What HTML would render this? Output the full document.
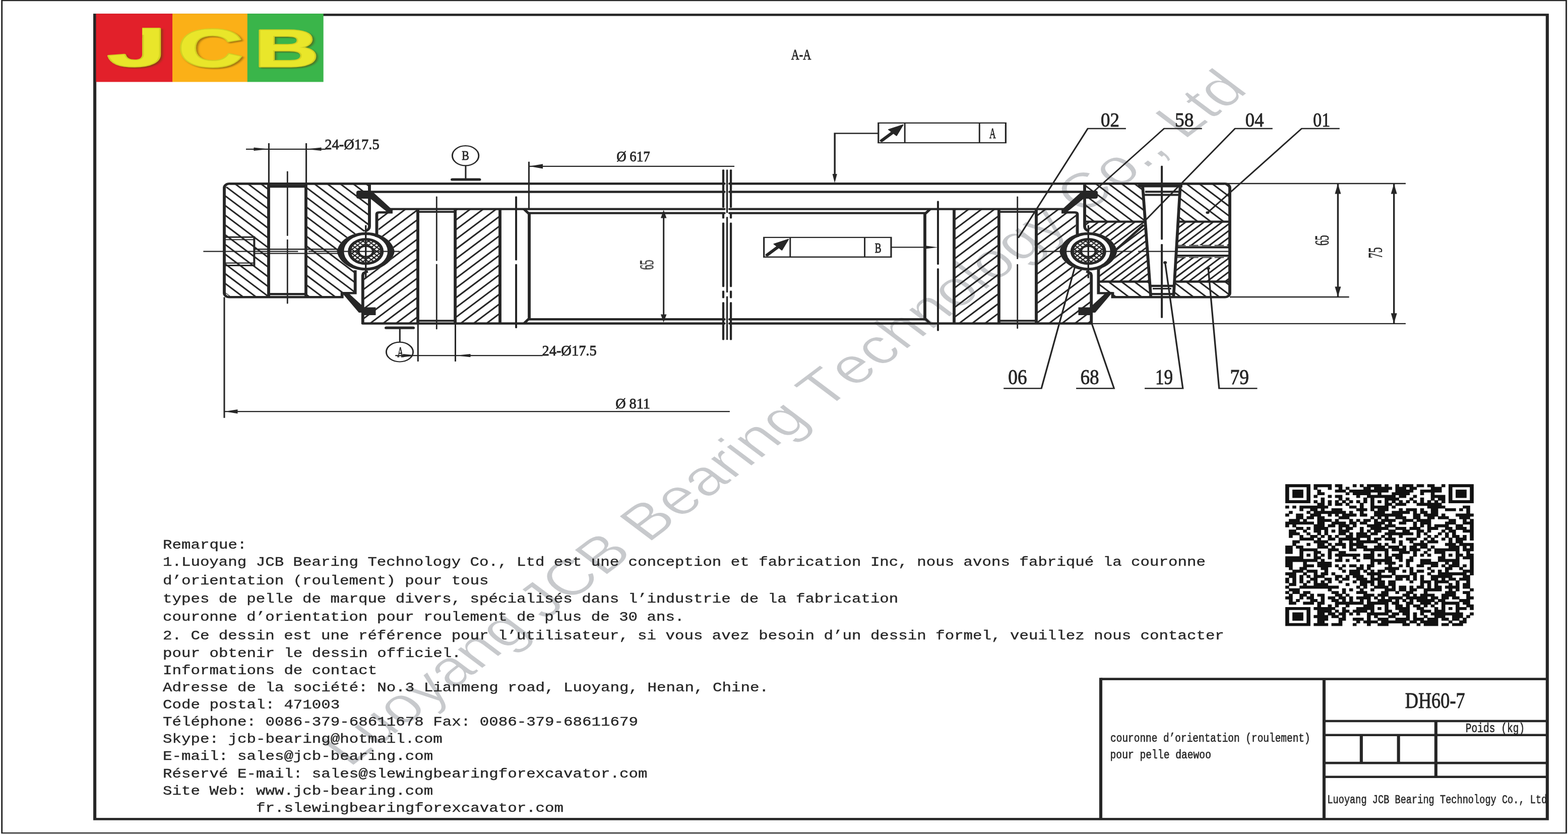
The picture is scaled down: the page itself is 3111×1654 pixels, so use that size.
<!DOCTYPE html>
<html lang="fr"><head><meta charset="utf-8"><title>DH60-7 couronne d'orientation</title>
<style>html,body{margin:0;padding:0;background:#fff;}body{width:3111px;height:1654px;overflow:hidden;}svg{display:block;}text{white-space:pre;}</style></head><body>
<svg width="3111" height="1654" viewBox="0 0 3111 1654" role="img" aria-label="Plan de la couronne d orientation DH60-7">
<defs><clipPath id="b1"><circle cx="545.64" cy="498.6" r="24"/></clipPath><clipPath id="b2"><circle cx="1623.53" cy="498.6" r="24"/></clipPath><clipPath id="c3"><path d="M343.61 364.3 L400.75 364.3 L400.75 589.3 L343.61 589.3 L334.59 579.3 L334.59 374.3 Z" clip-rule="evenodd"/></clipPath><clipPath id="c4"><path d="M456.39 364.3 L551.13 364.3 L551.13 452 L544.36 458.5 L540.43 460.91 L535.29 461.85 L530.3 463.41 L525.53 465.55 L521.06 468.24 L516.95 471.46 L513.25 475.15 L510.02 479.26 L507.31 483.72 L505.16 488.48 L503.59 493.46 L502.64 498.6 L503.59 503.74 L505.16 508.72 L507.31 513.48 L510.02 517.94 L513.25 522.05 L516.95 525.74 L521.06 528.96 L525.53 531.65 L529.85 536 L529.85 581.2 L510.3 581.2 L510.3 589.3 L456.39 589.3 Z" clip-rule="evenodd"/></clipPath><clipPath id="c5"><path d="M562.03 421.2 L583.46 421.2 L583.46 414.6 L623.31 414.6 L623.31 641.5 L541.2 641.5 L541.2 544 L547.37 539 L550.85 536.29 L555.99 535.35 L560.98 533.79 L565.74 531.65 L570.22 528.96 L574.33 525.74 L578.03 522.05 L581.26 517.94 L583.97 513.48 L586.12 508.72 L587.69 503.74 L588.64 498.6 L587.69 493.46 L586.12 488.48 L583.97 483.72 L581.26 479.26 L578.03 475.15 L574.33 471.46 L570.22 468.24 L565.74 465.55 Z" clip-rule="evenodd"/></clipPath><clipPath id="c6"><path d="M679.02 414.6 L745.86 414.6 L745.86 641.5 L679.02 641.5 Z" clip-rule="evenodd"/></clipPath><clipPath id="c7"><path d="M1607.14 421.2 L1585.71 421.2 L1585.71 414.6 L1545.86 414.6 L1545.86 641.5 L1627.97 641.5 L1627.97 544 L1621.8 539 L1618.32 536.29 L1613.18 535.35 L1608.19 533.79 L1603.43 531.65 L1598.96 528.96 L1594.84 525.74 L1591.14 522.05 L1587.91 517.94 L1585.2 513.48 L1583.05 508.72 L1581.49 503.74 L1580.53 498.6 L1581.49 493.46 L1583.05 488.48 L1585.2 483.72 L1587.91 479.26 L1591.14 475.15 L1594.84 471.46 L1598.96 468.24 L1603.43 465.55 Z" clip-rule="evenodd"/></clipPath><clipPath id="c8"><path d="M1490.15 414.6 L1423.31 414.6 L1423.31 641.5 L1490.15 641.5 Z" clip-rule="evenodd"/></clipPath><clipPath id="c9"><path d="M1618.05 364.3 L1704.31 364.3 L1708.48 439.6 L1618.05 439.6 Z" clip-rule="evenodd"/></clipPath><clipPath id="c10"><path d="M1760.88 364.3 L1827.07 364.3 L1834.59 372.3 L1834.59 439.6 L1757.45 439.6 Z" clip-rule="evenodd"/></clipPath><clipPath id="c11"><path d="M1618.05 439.6 L1708.48 439.6 L1715.05 558.5 L1638.65 558.5 L1638.65 536 L1638.87 533.79 L1643.64 531.65 L1648.11 528.96 L1652.23 525.74 L1655.92 522.05 L1659.15 517.94 L1661.86 513.48 L1664.02 508.72 L1665.58 503.74 L1666.53 498.6 L1665.58 493.46 L1664.02 488.48 L1661.86 483.72 L1659.15 479.26 L1655.92 475.15 L1652.23 471.46 L1648.11 468.24 L1643.64 465.55 L1638.87 463.41 L1633.89 461.85 L1628.75 460.91 L1624.81 458.5 L1618.05 452 Z" clip-rule="evenodd"/></clipPath><clipPath id="c12"><path d="M1757.45 439.6 L1834.59 439.6 L1834.59 486.6 L1755.3 486.6 Z" clip-rule="evenodd"/></clipPath><clipPath id="c13"><path d="M1754.2 510.8 L1834.59 510.8 L1834.59 558.5 L1752.03 558.5 Z" clip-rule="evenodd"/></clipPath><clipPath id="c14"><path d="M1638.65 558.5 L1715.05 558.5 L1716.76 589.3 L1659.77 589.3 L1659.77 581.4 L1638.65 581.4 Z" clip-rule="evenodd"/></clipPath><clipPath id="c15"><path d="M1752.03 558.5 L1834.59 558.5 L1834.59 581.3 L1827.07 589.3 L1750.62 589.3 Z" clip-rule="evenodd"/></clipPath></defs>
<rect width="3111" height="1654" fill="#fff"/>
<g><g transform="scale(1.33 1)"><text transform="translate(521.5 1523.4) rotate(-45)" font-family="&quot;Liberation Sans&quot;, sans-serif" font-size="100.2" fill="#c7c9cc" stroke="#fff" stroke-width="1.4" style="font-kerning:none">Luoyang JCB Bearing Technology Co., Ltd</text></g></g>
<g transform="scale(1.33 1)"><rect x="2.78" y="1.1" width="2333.76" height="1650.9" fill="none" stroke="#262626" stroke-width="2.2"/>
<rect x="141.43" y="29.4" width="2166.77" height="1595" fill="none" stroke="#262626" stroke-width="4.6"/>
<line x1="1642.11" y1="1346.6" x2="2308.2" y2="1346.6" stroke="#262626" stroke-width="4.6"/>
<line x1="1642.11" y1="1344.3" x2="1642.11" y2="1624.4" stroke="#262626" stroke-width="4.6"/>
<line x1="1975.19" y1="1346.6" x2="1975.19" y2="1624.4" stroke="#262626" stroke-width="4.6"/>
<line x1="1975.19" y1="1430" x2="2308.2" y2="1430" stroke="#262626" stroke-width="4.6"/>
<line x1="1975.19" y1="1457.7" x2="2308.2" y2="1457.7" stroke="#262626" stroke-width="4.6"/>
<line x1="1975.19" y1="1513.1" x2="2308.2" y2="1513.1" stroke="#262626" stroke-width="4.6"/>
<line x1="1975.19" y1="1540.8" x2="2308.2" y2="1540.8" stroke="#262626" stroke-width="4.6"/>
<line x1="2142.03" y1="1430" x2="2142.03" y2="1540.8" stroke="#262626" stroke-width="4.6"/>
<line x1="2030.75" y1="1457.7" x2="2030.75" y2="1513.1" stroke="#262626" stroke-width="4.6"/>
<line x1="2086.24" y1="1457.7" x2="2086.24" y2="1513.1" stroke="#262626" stroke-width="4.6"/>
<path d="M343.61 364.3 L1080.3 364.3" fill="none" stroke="#262626" stroke-width="4.4" stroke-linecap="round"/>
<path d="M1088.72 364.3 L1825.56 364.3" fill="none" stroke="#262626" stroke-width="4.4" stroke-linecap="round"/>
<path d="M553.38 380.5 L1080.3 380.5" fill="none" stroke="#262626" stroke-width="4.4" stroke-linecap="round"/>
<path d="M1088.72 380.5 L1616.54 380.5" fill="none" stroke="#262626" stroke-width="4.4" stroke-linecap="round"/>
<path d="M582.71 414.6 L1080.3 414.6" fill="none" stroke="#262626" stroke-width="4.4" stroke-linecap="round"/>
<path d="M1088.72 414.6 L1586.47 414.6" fill="none" stroke="#262626" stroke-width="4.4" stroke-linecap="round"/>
<path d="M789.47 422.6 L1080.3 422.6" fill="none" stroke="#262626" stroke-width="4.4" stroke-linecap="round"/>
<path d="M1088.72 422.6 L1379.7 422.6" fill="none" stroke="#262626" stroke-width="4.4" stroke-linecap="round"/>
<path d="M789.47 633.3 L1080.3 633.3" fill="none" stroke="#262626" stroke-width="4.4" stroke-linecap="round"/>
<path d="M1088.72 633.3 L1379.7 633.3" fill="none" stroke="#262626" stroke-width="4.4" stroke-linecap="round"/>
<path d="M541.2 641.5 L1080.3 641.5" fill="none" stroke="#262626" stroke-width="4.4" stroke-linecap="round"/>
<path d="M1088.72 641.5 L1627.97 641.5" fill="none" stroke="#262626" stroke-width="4.4" stroke-linecap="round"/>
<line x1="1078.95" y1="337.5" x2="1078.95" y2="410.4" stroke="#262626" stroke-width="3.2" stroke-linecap="round"/>
<line x1="1078.95" y1="422.6" x2="1078.95" y2="432" stroke="#262626" stroke-width="3.2" stroke-linecap="round"/>
<line x1="1078.95" y1="442.8" x2="1078.95" y2="567.8" stroke="#262626" stroke-width="3.2" stroke-linecap="round"/>
<line x1="1078.95" y1="577.8" x2="1078.95" y2="590" stroke="#262626" stroke-width="3.2" stroke-linecap="round"/>
<line x1="1078.95" y1="600.7" x2="1078.95" y2="673" stroke="#262626" stroke-width="3.2" stroke-linecap="round"/>
<line x1="1090.3" y1="337.5" x2="1090.3" y2="410.4" stroke="#262626" stroke-width="3.2" stroke-linecap="round"/>
<line x1="1090.3" y1="422.6" x2="1090.3" y2="432" stroke="#262626" stroke-width="3.2" stroke-linecap="round"/>
<line x1="1090.3" y1="442.8" x2="1090.3" y2="567.8" stroke="#262626" stroke-width="3.2" stroke-linecap="round"/>
<line x1="1090.3" y1="577.8" x2="1090.3" y2="590" stroke="#262626" stroke-width="3.2" stroke-linecap="round"/>
<line x1="1090.3" y1="600.7" x2="1090.3" y2="673" stroke="#262626" stroke-width="3.2" stroke-linecap="round"/>
<line x1="1084.66" y1="337.5" x2="1084.66" y2="421.2" stroke="#262626" stroke-width="2.4" stroke-linecap="round"/>
<line x1="1084.66" y1="431.2" x2="1084.66" y2="579" stroke="#262626" stroke-width="2.4" stroke-linecap="round"/>
<line x1="1084.66" y1="588.6" x2="1084.66" y2="673" stroke="#262626" stroke-width="2.4" stroke-linecap="round"/>
<path d="M502.64 498.6 L503.59 493.46 L505.16 488.48 L507.31 483.72 L510.02 479.26 L513.25 475.15 L516.95 471.46 L521.06 468.24 L525.53 465.55 L530.3 463.41 L535.29 461.85 L540.43 460.91 L545.64 460.6 L550.85 460.91 L555.99 461.85 L560.98 463.41 L565.74 465.55 L570.22 468.24 L574.33 471.46 L578.03 475.15 L581.26 479.26 L583.97 483.72 L586.12 488.48 L587.69 493.46 L588.64 498.6 L587.69 503.74 L586.12 508.72 L583.97 513.48 L581.26 517.94 L578.03 522.05 L574.33 525.74 L570.22 528.96 L565.74 531.65 L560.98 533.79 L555.99 535.35 L550.85 536.29 L545.64 536.6 L540.43 536.29 L535.29 535.35 L530.3 533.79 L525.53 531.65 L521.06 528.96 L516.95 525.74 L513.25 522.05 L510.02 517.94 L507.31 513.48 L505.16 508.72 L503.59 503.74 Z" fill="#262626" stroke="none" stroke-width="0" stroke-linejoin="miter"/>
<circle cx="545.64" cy="498.6" r="32.6" fill="#fff" stroke="none" stroke-width="0"/>
<path clip-path="url(#b1)" d="M515.64 419.4 L575.64 479.4 M515.64 479.4 L575.64 419.4 M515.64 427.6 L575.64 487.6 M515.64 487.6 L575.64 427.6 M515.64 435.8 L575.64 495.8 M515.64 495.8 L575.64 435.8 M515.64 444 L575.64 504 M515.64 504 L575.64 444 M515.64 452.2 L575.64 512.2 M515.64 512.2 L575.64 452.2 M515.64 460.4 L575.64 520.4 M515.64 520.4 L575.64 460.4 M515.64 468.6 L575.64 528.6 M515.64 528.6 L575.64 468.6 M515.64 476.8 L575.64 536.8 M515.64 536.8 L575.64 476.8 M515.64 485 L575.64 545 M515.64 545 L575.64 485 M515.64 493.2 L575.64 553.2 M515.64 553.2 L575.64 493.2 M515.64 501.4 L575.64 561.4 M515.64 561.4 L575.64 501.4 M515.64 509.6 L575.64 569.6 M515.64 569.6 L575.64 509.6 M515.64 517.8 L575.64 577.8 M515.64 577.8 L575.64 517.8" fill="none" stroke="#262626" stroke-width="2"/>
<circle cx="545.64" cy="498.6" r="24.2" fill="none" stroke="#262626" stroke-width="5"/>
<circle cx="545.64" cy="498.6" r="11.2" fill="#fff" stroke="#262626" stroke-width="4"/>
<line x1="545.64" y1="446.6" x2="545.64" y2="551.6" stroke="#262626" stroke-width="2.6"/>
<path d="M1580.53 498.6 L1581.49 493.46 L1583.05 488.48 L1585.2 483.72 L1587.91 479.26 L1591.14 475.15 L1594.84 471.46 L1598.96 468.24 L1603.43 465.55 L1608.19 463.41 L1613.18 461.85 L1618.32 460.91 L1623.53 460.6 L1628.75 460.91 L1633.89 461.85 L1638.87 463.41 L1643.64 465.55 L1648.11 468.24 L1652.23 471.46 L1655.92 475.15 L1659.15 479.26 L1661.86 483.72 L1664.02 488.48 L1665.58 493.46 L1666.53 498.6 L1665.58 503.74 L1664.02 508.72 L1661.86 513.48 L1659.15 517.94 L1655.92 522.05 L1652.23 525.74 L1648.11 528.96 L1643.64 531.65 L1638.87 533.79 L1633.89 535.35 L1628.75 536.29 L1623.53 536.6 L1618.32 536.29 L1613.18 535.35 L1608.19 533.79 L1603.43 531.65 L1598.96 528.96 L1594.84 525.74 L1591.14 522.05 L1587.91 517.94 L1585.2 513.48 L1583.05 508.72 L1581.49 503.74 Z" fill="#262626" stroke="none" stroke-width="0" stroke-linejoin="miter"/>
<circle cx="1623.53" cy="498.6" r="32.6" fill="#fff" stroke="none" stroke-width="0"/>
<path clip-path="url(#b2)" d="M1593.53 419.4 L1653.53 479.4 M1593.53 479.4 L1653.53 419.4 M1593.53 427.6 L1653.53 487.6 M1593.53 487.6 L1653.53 427.6 M1593.53 435.8 L1653.53 495.8 M1593.53 495.8 L1653.53 435.8 M1593.53 444 L1653.53 504 M1593.53 504 L1653.53 444 M1593.53 452.2 L1653.53 512.2 M1593.53 512.2 L1653.53 452.2 M1593.53 460.4 L1653.53 520.4 M1593.53 520.4 L1653.53 460.4 M1593.53 468.6 L1653.53 528.6 M1593.53 528.6 L1653.53 468.6 M1593.53 476.8 L1653.53 536.8 M1593.53 536.8 L1653.53 476.8 M1593.53 485 L1653.53 545 M1593.53 545 L1653.53 485 M1593.53 493.2 L1653.53 553.2 M1593.53 553.2 L1653.53 493.2 M1593.53 501.4 L1653.53 561.4 M1593.53 561.4 L1653.53 501.4 M1593.53 509.6 L1653.53 569.6 M1593.53 569.6 L1653.53 509.6 M1593.53 517.8 L1653.53 577.8 M1593.53 577.8 L1653.53 517.8" fill="none" stroke="#262626" stroke-width="2"/>
<circle cx="1623.53" cy="498.6" r="24.2" fill="none" stroke="#262626" stroke-width="5"/>
<circle cx="1623.53" cy="498.6" r="11.2" fill="#fff" stroke="#262626" stroke-width="4"/>
<line x1="1623.53" y1="446.6" x2="1623.53" y2="551.6" stroke="#262626" stroke-width="2.6"/>
<path d="M551.13 364.3 L342.11 364.3 A7.52 8 0 0 0 334.59 372.3 L334.59 581.3 A7.52 8 0 0 0 342.11 589.3 L510.3 589.3 L510.3 581.2 L529.85 581.2 L529.85 536" fill="none" stroke="#262626" stroke-width="4.4"/>
<path d="M551.13 364.3 L551.13 449 Q551.13 456 544.36 458.5" fill="none" stroke="#262626" stroke-width="4.4"/>
<line x1="400.75" y1="364.3" x2="400.75" y2="589.3" stroke="#262626" stroke-width="4.4"/>
<line x1="456.39" y1="364.3" x2="456.39" y2="589.3" stroke="#262626" stroke-width="4.4"/>
<line x1="400.75" y1="369.2" x2="456.39" y2="369.2" stroke="#262626" stroke-width="5.9"/>
<line x1="400.75" y1="583.2" x2="456.39" y2="583.2" stroke="#262626" stroke-width="4.4"/>
<line x1="334.59" y1="470.3" x2="379.25" y2="470.3" stroke="#262626" stroke-width="3"/>
<line x1="334.59" y1="475.2" x2="379.25" y2="475.2" stroke="#262626" stroke-width="2.1"/>
<line x1="334.59" y1="521.6" x2="379.25" y2="521.6" stroke="#262626" stroke-width="2.1"/>
<line x1="334.59" y1="526.5" x2="379.25" y2="526.5" stroke="#262626" stroke-width="3"/>
<line x1="379.25" y1="468.8" x2="379.25" y2="528" stroke="#262626" stroke-width="3"/>
<line x1="379.25" y1="494.3" x2="506.02" y2="494.3" stroke="#262626" stroke-width="2.4"/>
<line x1="379.25" y1="502.6" x2="506.02" y2="502.6" stroke="#262626" stroke-width="2.4"/>
<path clip-path="url(#c3)" d="M332.59 307.89 L402.75 378.05 M332.59 327.19 L402.75 397.35 M332.59 346.49 L402.75 416.65 M332.59 365.79 L402.75 435.95 M332.59 385.09 L402.75 455.25 M332.59 404.39 L402.75 474.55 M332.59 423.69 L402.75 493.85 M332.59 442.99 L402.75 513.15 M332.59 462.29 L402.75 532.45 M332.59 481.59 L402.75 551.75 M332.59 500.89 L402.75 571.05 M332.59 520.19 L402.75 590.35 M332.59 539.49 L402.75 609.65 M332.59 558.79 L402.75 628.95 M332.59 578.09 L402.75 648.25" fill="none" stroke="#262626" stroke-width="2.7"/>
<path clip-path="url(#c4)" d="M454.39 272.79 L553.13 371.53 M454.39 292.09 L553.13 390.83 M454.39 311.39 L553.13 410.13 M454.39 330.69 L553.13 429.43 M454.39 349.99 L553.13 448.73 M454.39 369.29 L553.13 468.03 M454.39 388.59 L553.13 487.33 M454.39 407.89 L553.13 506.63 M454.39 427.19 L553.13 525.93 M454.39 446.49 L553.13 545.23 M454.39 465.79 L553.13 564.53 M454.39 485.09 L553.13 583.83 M454.39 504.39 L553.13 603.13 M454.39 523.69 L553.13 622.43 M454.39 542.99 L553.13 641.73 M454.39 562.29 L553.13 661.03 M454.39 581.59 L553.13 680.33" fill="none" stroke="#262626" stroke-width="2.7"/>
<path d="M562.03 470 L562.03 425 Q562.03 421.2 565.41 421.2 L583.46 421.2 L583.46 414.6" fill="none" stroke="#262626" stroke-width="4.4"/>
<path d="M548.87 538.5 Q541.2 540 541.2 546 L541.2 641.5" fill="none" stroke="#262626" stroke-width="4.4"/>
<line x1="623.31" y1="414.6" x2="623.31" y2="641.5" stroke="#262626" stroke-width="4.4"/>
<line x1="679.02" y1="414.6" x2="679.02" y2="641.5" stroke="#262626" stroke-width="4.4"/>
<line x1="745.86" y1="414.6" x2="745.86" y2="641.5" stroke="#262626" stroke-width="4.4"/>
<line x1="623.31" y1="420.2" x2="679.02" y2="420.2" stroke="#262626" stroke-width="3.8"/>
<line x1="623.31" y1="636.2" x2="679.02" y2="636.2" stroke="#262626" stroke-width="3.8"/>
<path d="M781.58 414.6 L789.47 424.5 L789.47 631.5 L781.58 641.5" fill="none" stroke="#262626" stroke-width="4.4"/>
<line x1="769.92" y1="390.7" x2="769.92" y2="515" stroke="#262626" stroke-width="3" stroke-linecap="round"/>
<line x1="769.92" y1="525" x2="769.92" y2="649.5" stroke="#262626" stroke-width="3" stroke-linecap="round"/>
<line x1="651.35" y1="390.5" x2="651.35" y2="516.6" stroke="#262626" stroke-width="2.1" stroke-linecap="round"/>
<line x1="651.35" y1="524.5" x2="651.35" y2="652.2" stroke="#262626" stroke-width="2.1" stroke-linecap="round"/>
<line x1="1545.86" y1="414.6" x2="1545.86" y2="641.5" stroke="#262626" stroke-width="4.4"/>
<line x1="1490.15" y1="414.6" x2="1490.15" y2="641.5" stroke="#262626" stroke-width="4.4"/>
<line x1="1423.31" y1="414.6" x2="1423.31" y2="641.5" stroke="#262626" stroke-width="4.4"/>
<line x1="1545.86" y1="420.2" x2="1490.15" y2="420.2" stroke="#262626" stroke-width="3.8"/>
<line x1="1545.86" y1="636.2" x2="1490.15" y2="636.2" stroke="#262626" stroke-width="3.8"/>
<path d="M1387.59 414.6 L1379.7 424.5 L1379.7 631.5 L1387.59 641.5" fill="none" stroke="#262626" stroke-width="4.4"/>
<line x1="1399.25" y1="399.8" x2="1399.25" y2="523.6" stroke="#262626" stroke-width="3" stroke-linecap="round"/>
<line x1="1399.25" y1="533.5" x2="1399.25" y2="655" stroke="#262626" stroke-width="3" stroke-linecap="round"/>
<line x1="1517.82" y1="390.6" x2="1517.82" y2="513" stroke="#262626" stroke-width="2.1" stroke-linecap="round"/>
<line x1="1517.82" y1="524.8" x2="1517.82" y2="651" stroke="#262626" stroke-width="2.1" stroke-linecap="round"/>
<path clip-path="url(#c5)" d="M539.2 422.7 L625.31 336.59 M539.2 442 L625.31 355.89 M539.2 461.3 L625.31 375.19 M539.2 480.6 L625.31 394.49 M539.2 499.9 L625.31 413.79 M539.2 519.2 L625.31 433.09 M539.2 538.5 L625.31 452.39 M539.2 557.8 L625.31 471.69 M539.2 577.1 L625.31 490.99 M539.2 596.4 L625.31 510.29 M539.2 615.7 L625.31 529.59 M539.2 635 L625.31 548.89 M539.2 654.3 L625.31 568.19 M539.2 673.6 L625.31 587.49 M539.2 692.9 L625.31 606.79 M539.2 712.2 L625.31 626.09" fill="none" stroke="#262626" stroke-width="2.7"/>
<path clip-path="url(#c6)" d="M677.02 419.98 L747.86 349.14 M677.02 439.28 L747.86 368.44 M677.02 458.58 L747.86 387.74 M677.02 477.88 L747.86 407.04 M677.02 497.18 L747.86 426.34 M677.02 516.48 L747.86 445.64 M677.02 535.78 L747.86 464.94 M677.02 555.08 L747.86 484.24 M677.02 574.38 L747.86 503.54 M677.02 593.68 L747.86 522.84 M677.02 612.98 L747.86 542.14 M677.02 632.28 L747.86 561.44 M677.02 651.58 L747.86 580.74 M677.02 670.88 L747.86 600.04 M677.02 690.18 L747.86 619.34 M677.02 709.48 L747.86 638.64" fill="none" stroke="#262626" stroke-width="2.7"/>
<path d="M553.38 378 L535.34 378 Q531.58 378 531.58 382 L531.58 390 Q531.58 394 535.34 394 L553.38 394 Z" fill="#262626" stroke="none" stroke-width="0"/>
<path d="M548.87 380 L555.64 380 L585.71 416.5 L585.71 422 L578.95 422 L548.87 390 Z" fill="#262626" stroke="none" stroke-width="0" stroke-linejoin="miter"/>
<path d="M1615.79 378 L1633.83 378 Q1637.59 378 1637.59 382 L1637.59 390 Q1637.59 394 1633.83 394 L1615.79 394 Z" fill="#262626" stroke="none" stroke-width="0"/>
<path d="M1620.3 380 L1613.53 380 L1583.46 416.5 L1583.46 422 L1590.23 422 L1620.3 390 Z" fill="#262626" stroke="none" stroke-width="0" stroke-linejoin="miter"/>
<path d="M539.1 609.5 L560.53 609.5 L560.53 625 L539.1 625 Z" fill="#262626" stroke="none" stroke-width="0" stroke-linejoin="miter"/>
<path d="M509.02 579 L518.05 579 L544.36 611 L540.6 620 L535.34 620 Z" fill="#262626" stroke="none" stroke-width="0" stroke-linejoin="miter"/>
<path d="M1630.08 609.5 L1608.65 609.5 L1608.65 625 L1630.08 625 Z" fill="#262626" stroke="none" stroke-width="0" stroke-linejoin="miter"/>
<path d="M1660.15 579 L1651.13 579 L1624.81 611 L1628.57 620 L1633.83 620 Z" fill="#262626" stroke="none" stroke-width="0" stroke-linejoin="miter"/>
<line x1="303.31" y1="498.6" x2="444.66" y2="498.6" stroke="#262626" stroke-width="2.1"/>
<line x1="460.15" y1="498.6" x2="596.24" y2="498.6" stroke="#262626" stroke-width="2.1"/>
<line x1="428.8" y1="340.5" x2="428.8" y2="467" stroke="#262626" stroke-width="2.1" stroke-linecap="round"/>
<line x1="428.8" y1="475.8" x2="428.8" y2="601.4" stroke="#262626" stroke-width="2.1" stroke-linecap="round"/>
<path d="M1607.14 470 L1607.14 425 Q1607.14 421.2 1603.76 421.2 L1585.71 421.2 L1585.71 414.6" fill="none" stroke="#262626" stroke-width="4.4"/>
<path d="M1620.3 538.5 Q1627.97 540 1627.97 546 L1627.97 641.5" fill="none" stroke="#262626" stroke-width="4.4"/>
<path clip-path="url(#c7)" d="M1543.86 430.84 L1629.97 344.73 M1543.86 450.14 L1629.97 364.03 M1543.86 469.44 L1629.97 383.33 M1543.86 488.74 L1629.97 402.63 M1543.86 508.04 L1629.97 421.93 M1543.86 527.34 L1629.97 441.23 M1543.86 546.64 L1629.97 460.53 M1543.86 565.94 L1629.97 479.83 M1543.86 585.24 L1629.97 499.13 M1543.86 604.54 L1629.97 518.43 M1543.86 623.84 L1629.97 537.73 M1543.86 643.14 L1629.97 557.03 M1543.86 662.44 L1629.97 576.33 M1543.86 681.74 L1629.97 595.63 M1543.86 701.04 L1629.97 614.93 M1543.86 720.34 L1629.97 634.23" fill="none" stroke="#262626" stroke-width="2.7"/>
<path clip-path="url(#c8)" d="M1421.31 419.29 L1492.15 348.45 M1421.31 438.59 L1492.15 367.75 M1421.31 457.89 L1492.15 387.05 M1421.31 477.19 L1492.15 406.35 M1421.31 496.49 L1492.15 425.65 M1421.31 515.79 L1492.15 444.95 M1421.31 535.09 L1492.15 464.25 M1421.31 554.39 L1492.15 483.55 M1421.31 573.69 L1492.15 502.85 M1421.31 592.99 L1492.15 522.15 M1421.31 612.29 L1492.15 541.45 M1421.31 631.59 L1492.15 560.75 M1421.31 650.89 L1492.15 580.05 M1421.31 670.19 L1492.15 599.35 M1421.31 689.49 L1492.15 618.65 M1421.31 708.79 L1492.15 637.95" fill="none" stroke="#262626" stroke-width="2.7"/>
<path d="M1618.05 364.3 L1618.05 449 Q1618.05 456 1624.81 458.5" fill="none" stroke="#262626" stroke-width="4.4"/>
<path d="M1729.32 364.3 L1827.07 364.3 A7.52 8 0 0 1 1834.59 372.3 L1834.59 581.3 A7.52 8 0 0 1 1827.07 589.3 L1659.77 589.3 L1659.77 581.4 L1638.65 581.4 L1638.65 534" fill="none" stroke="#262626" stroke-width="4.4"/>
<path d="M1704.4 366 L1716.74 589" fill="none" stroke="#262626" stroke-width="4.4"/>
<path d="M1760.8 366 L1750.64 589" fill="none" stroke="#262626" stroke-width="4.4"/>
<line x1="1697.74" y1="368.6" x2="1763.91" y2="368.6" stroke="#262626" stroke-width="5.9"/>
<line x1="1708.27" y1="380.2" x2="1757.89" y2="380.2" stroke="#262626" stroke-width="4"/>
<line x1="1706.77" y1="386.6" x2="1759.02" y2="386.6" stroke="#262626" stroke-width="4"/>
<line x1="1715.79" y1="567" x2="1751.13" y2="567" stroke="#262626" stroke-width="4.4"/>
<line x1="1719.55" y1="572.5" x2="1747.37" y2="572.5" stroke="#262626" stroke-width="3"/>
<line x1="1716.54" y1="583.1" x2="1750.38" y2="583.1" stroke="#262626" stroke-width="4.4"/>
<line x1="1618.05" y1="439.6" x2="1708.48" y2="439.6" stroke="#262626" stroke-width="4.4"/>
<line x1="1757.45" y1="439.6" x2="1834.59" y2="439.6" stroke="#262626" stroke-width="4.4"/>
<line x1="1638.65" y1="558.5" x2="1715.05" y2="558.5" stroke="#262626" stroke-width="4.4"/>
<line x1="1752.03" y1="558.5" x2="1834.59" y2="558.5" stroke="#262626" stroke-width="4.4"/>
<line x1="1754.78" y1="490.4" x2="1834.59" y2="490.4" stroke="#262626" stroke-width="4.4"/>
<line x1="1754.78" y1="507.1" x2="1834.59" y2="507.1" stroke="#262626" stroke-width="4.4"/>
<line x1="1754.78" y1="486.6" x2="1834.59" y2="486.6" stroke="#262626" stroke-width="1.6" stroke-dasharray="14 5"/>
<line x1="1754.78" y1="510.8" x2="1834.59" y2="510.8" stroke="#262626" stroke-width="1.6" stroke-dasharray="14 5"/>
<line x1="1664.66" y1="495.8" x2="1706.24" y2="445.9" stroke="#262626" stroke-width="4"/>
<line x1="1733.16" y1="330" x2="1733.16" y2="474.1" stroke="#262626" stroke-width="3" stroke-linecap="round"/>
<line x1="1733.16" y1="485.3" x2="1733.16" y2="629.3" stroke="#262626" stroke-width="3" stroke-linecap="round"/>
<path clip-path="url(#c9)" d="M1616.05 287.95 L1710.48 382.38 M1616.05 307.25 L1710.48 401.68 M1616.05 326.55 L1710.48 420.98 M1616.05 345.85 L1710.48 440.28 M1616.05 365.15 L1710.48 459.58 M1616.05 384.45 L1710.48 478.88 M1616.05 403.75 L1710.48 498.18 M1616.05 423.05 L1710.48 517.48" fill="none" stroke="#262626" stroke-width="2.7"/>
<path clip-path="url(#c10)" d="M1755.45 292.25 L1836.59 373.39 M1755.45 311.55 L1836.59 392.69 M1755.45 330.85 L1836.59 411.99 M1755.45 350.15 L1836.59 431.29 M1755.45 369.45 L1836.59 450.59 M1755.45 388.75 L1836.59 469.89 M1755.45 408.05 L1836.59 489.19 M1755.45 427.35 L1836.59 508.49" fill="none" stroke="#262626" stroke-width="2.7"/>
<path clip-path="url(#c11)" d="M1616.05 449.15 L1717.05 348.15 M1616.05 462.75 L1717.05 361.75 M1616.05 476.35 L1717.05 375.35 M1616.05 489.95 L1717.05 388.95 M1616.05 503.55 L1717.05 402.55 M1616.05 517.15 L1717.05 416.15 M1616.05 530.75 L1717.05 429.75 M1616.05 544.35 L1717.05 443.35 M1616.05 557.95 L1717.05 456.95 M1616.05 571.55 L1717.05 470.55 M1616.05 585.15 L1717.05 484.15 M1616.05 598.75 L1717.05 497.75 M1616.05 612.35 L1717.05 511.35 M1616.05 625.95 L1717.05 524.95 M1616.05 639.55 L1717.05 538.55 M1616.05 653.15 L1717.05 552.15" fill="none" stroke="#262626" stroke-width="2.7"/>
<path clip-path="url(#c12)" d="M1753.3 442.3 L1836.59 359.01 M1753.3 455.9 L1836.59 372.61 M1753.3 469.5 L1836.59 386.21 M1753.3 483.1 L1836.59 399.81 M1753.3 496.7 L1836.59 413.41 M1753.3 510.3 L1836.59 427.01 M1753.3 523.9 L1836.59 440.61 M1753.3 537.5 L1836.59 454.21 M1753.3 551.1 L1836.59 467.81 M1753.3 564.7 L1836.59 481.41" fill="none" stroke="#262626" stroke-width="2.7"/>
<path clip-path="url(#c13)" d="M1750.03 513.57 L1836.59 427.01 M1750.03 527.17 L1836.59 440.61 M1750.03 540.77 L1836.59 454.21 M1750.03 554.37 L1836.59 467.81 M1750.03 567.97 L1836.59 481.41 M1750.03 581.57 L1836.59 495.01 M1750.03 595.17 L1836.59 508.61 M1750.03 608.77 L1836.59 522.21 M1750.03 622.37 L1836.59 535.81 M1750.03 635.97 L1836.59 549.41" fill="none" stroke="#262626" stroke-width="2.7"/>
<path clip-path="url(#c14)" d="M1636.65 483.75 L1718.76 565.86 M1636.65 503.05 L1718.76 585.16 M1636.65 522.35 L1718.76 604.46 M1636.65 541.65 L1718.76 623.76 M1636.65 560.95 L1718.76 643.06 M1636.65 580.25 L1718.76 662.36" fill="none" stroke="#262626" stroke-width="2.7"/>
<path clip-path="url(#c15)" d="M1748.62 479.92 L1836.59 567.89 M1748.62 499.22 L1836.59 587.19 M1748.62 518.52 L1836.59 606.49 M1748.62 537.82 L1836.59 625.79 M1748.62 557.12 L1836.59 645.09 M1748.62 576.42 L1836.59 664.39" fill="none" stroke="#262626" stroke-width="2.7"/>
<line x1="1550.23" y1="498.6" x2="1688.5" y2="498.6" stroke="#262626" stroke-width="2.1"/>
<line x1="1697.74" y1="498.6" x2="1834.59" y2="498.6" stroke="#262626" stroke-width="2.1"/>
<line x1="401.05" y1="284" x2="401.05" y2="364.3" stroke="#262626" stroke-width="2.3"/>
<line x1="456.84" y1="284" x2="456.84" y2="364.3" stroke="#262626" stroke-width="2.3"/>
<line x1="366.92" y1="295.8" x2="485.71" y2="295.8" stroke="#262626" stroke-width="2.3"/>
<path d="M401.05 295.8 L378.5 292.6 L378.5 299 Z" fill="#262626" stroke="none" stroke-width="0" stroke-linejoin="miter"/>
<path d="M456.84 295.8 L479.4 292.6 L479.4 299 Z" fill="#262626" stroke="none" stroke-width="0" stroke-linejoin="miter"/>
<line x1="623.53" y1="641.5" x2="623.53" y2="716.9" stroke="#262626" stroke-width="2.3"/>
<line x1="679.32" y1="641.5" x2="679.32" y2="716.9" stroke="#262626" stroke-width="2.3"/>
<line x1="589.7" y1="705.1" x2="809.55" y2="705.1" stroke="#262626" stroke-width="2.3"/>
<path d="M623.53 705.1 L600.98 701.9 L600.98 708.3 Z" fill="#262626" stroke="none" stroke-width="0" stroke-linejoin="miter"/>
<path d="M679.32 705.1 L701.88 701.9 L701.88 708.3 Z" fill="#262626" stroke="none" stroke-width="0" stroke-linejoin="miter"/>
<line x1="334.59" y1="589.3" x2="334.59" y2="828.8" stroke="#262626" stroke-width="2.3"/>
<line x1="334.59" y1="816.1" x2="1088.65" y2="816.1" stroke="#262626" stroke-width="2.3"/>
<path d="M334.96 816.1 L354.51 811.9 L354.51 820.3 Z" fill="#262626" stroke="none" stroke-width="0" stroke-linejoin="miter"/>
<line x1="789.02" y1="320.7" x2="789.02" y2="414.6" stroke="#262626" stroke-width="2.3"/>
<line x1="789.02" y1="329.8" x2="1095.56" y2="329.8" stroke="#262626" stroke-width="2.3"/>
<path d="M789.47 329.8 L809.77 325.2 L809.77 334.4 Z" fill="#262626" stroke="none" stroke-width="0" stroke-linejoin="miter"/>
<line x1="990" y1="422.6" x2="990" y2="633.3" stroke="#262626" stroke-width="2.3"/>
<path d="M990 416.5 L985.64 432.5 L994.36 432.5 Z" fill="#262626" stroke="none" stroke-width="0" stroke-linejoin="miter"/>
<path d="M990 639.5 L985.64 623.5 L994.36 623.5 Z" fill="#262626" stroke="none" stroke-width="0" stroke-linejoin="miter"/>
<line x1="1824.06" y1="364" x2="2096.99" y2="364" stroke="#262626" stroke-width="2.3"/>
<line x1="1834.59" y1="589" x2="2012.56" y2="589" stroke="#262626" stroke-width="2.3"/>
<line x1="1627.82" y1="641.9" x2="2096.99" y2="641.9" stroke="#262626" stroke-width="2.3"/>
<line x1="1995.86" y1="364.3" x2="1995.86" y2="589.3" stroke="#262626" stroke-width="2.6"/>
<line x1="2079.47" y1="364.3" x2="2079.47" y2="641.5" stroke="#262626" stroke-width="2.6"/>
<path d="M1995.86 364.5 L1991.35 384.5 L2000.38 384.5 Z" fill="#262626" stroke="none" stroke-width="0" stroke-linejoin="miter"/>
<path d="M1995.86 588.5 L1991.35 568.5 L2000.38 568.5 Z" fill="#262626" stroke="none" stroke-width="0" stroke-linejoin="miter"/>
<path d="M2079.47 364.5 L2074.96 384.5 L2083.98 384.5 Z" fill="#262626" stroke="none" stroke-width="0" stroke-linejoin="miter"/>
<path d="M2079.47 641.2 L2074.96 621.2 L2083.98 621.2 Z" fill="#262626" stroke="none" stroke-width="0" stroke-linejoin="miter"/>
<ellipse cx="694.44" cy="308.8" rx="19.7" ry="19.6" fill="none" stroke="#262626" stroke-width="2.2"/>
<line x1="694.66" y1="328.4" x2="694.66" y2="354.5" stroke="#262626" stroke-width="2.3"/>
<line x1="674.81" y1="356" x2="715.04" y2="356" stroke="#262626" stroke-width="5.2" stroke-linecap="round"/>
<ellipse cx="596.24" cy="698.1" rx="20" ry="19.4" fill="none" stroke="#262626" stroke-width="2.2"/>
<line x1="596.47" y1="650" x2="596.47" y2="678.6" stroke="#262626" stroke-width="2.3"/>
<line x1="576.32" y1="650.2" x2="616.24" y2="650.2" stroke="#262626" stroke-width="5.2" stroke-linecap="round"/>
<path d="M1310.38 243.9 L1500.3 243.9 L1500.3 283.1 L1310.38 283.1 Z" fill="none" stroke="#262626" stroke-width="2.4"/>
<line x1="1349.77" y1="243.9" x2="1349.77" y2="283.1" stroke="#262626" stroke-width="2.2"/>
<line x1="1461.13" y1="243.9" x2="1461.13" y2="283.1" stroke="#262626" stroke-width="2.2"/>
<path d="M1315.26 278.9 L1334.32 260.13" stroke="#262626" stroke-width="5.4" stroke-linecap="round" fill="none"/>
<path d="M1347.14 247.5 L1337.43 268.99 L1325.5 256.88 Z" fill="#262626" stroke="#262626" stroke-width="1.5" stroke-linejoin="round"/>
<path d="M1139.62 470.9 L1329.32 470.9 L1329.32 509.8 L1139.62 509.8 Z" fill="none" stroke="#262626" stroke-width="2.4"/>
<line x1="1178.8" y1="470.9" x2="1178.8" y2="509.8" stroke="#262626" stroke-width="2.2"/>
<line x1="1289.92" y1="470.9" x2="1289.92" y2="509.8" stroke="#262626" stroke-width="2.2"/>
<path d="M1144.51 505.6 L1163.33 487.12" stroke="#262626" stroke-width="5.4" stroke-linecap="round" fill="none"/>
<path d="M1176.17 474.5 L1166.43 495.98 L1154.52 483.86 Z" fill="#262626" stroke="#262626" stroke-width="1.5" stroke-linejoin="round"/>
<path d="M1310.38 264.5 L1245.26 264.5 L1245.26 348" fill="none" stroke="#262626" stroke-width="2.6"/>
<path d="M1245.26 363 L1241.8 345 L1248.72 345 Z" fill="#262626" stroke="none" stroke-width="0" stroke-linejoin="miter"/>
<line x1="1329.32" y1="490.4" x2="1380.45" y2="490.4" stroke="#262626" stroke-width="2.3"/>
<path d="M1399.25 490.4 L1380.45 487.2 L1380.45 493.6 Z" fill="#262626" stroke="none" stroke-width="0" stroke-linejoin="miter"/>
<path d="M1679.62 255 L1622.71 255 L1519.02 471.8" fill="none" stroke="#262626" stroke-width="2.5"/>
<path d="M1793.08 255 L1736.54 255 L1632.93 378.3" fill="none" stroke="#262626" stroke-width="2.5"/>
<path d="M1898.35 255 L1842.33 255 L1709.32 436" fill="none" stroke="#262626" stroke-width="2.5"/>
<path d="M1998.35 255 L1941.8 255 L1801.5 421.6" fill="none" stroke="#262626" stroke-width="2.5"/>
<ellipse cx="1801.5" cy="421.6" rx="2.71" ry="2.6" fill="#262626"/>
<path d="M1497.14 770.2 L1553.53 770.2 L1603.38 530" fill="none" stroke="#262626" stroke-width="2.5"/>
<path d="M1605.34 770.2 L1661.88 770.2 L1628.5 641" fill="none" stroke="#262626" stroke-width="2.5"/>
<path d="M1707.59 770.2 L1764.51 770.2 L1738.05 520.7" fill="none" stroke="#262626" stroke-width="2.5"/>
<ellipse cx="1738.05" cy="520.7" rx="2.71" ry="2.6" fill="#262626"/>
<path d="M1875.56 770.2 L1818.65 770.2 L1802.41 532.1" fill="none" stroke="#262626" stroke-width="2.5"/>
<ellipse cx="1802.41" cy="532.1" rx="2.71" ry="2.6" fill="#262626"/></g>
<g opacity="0.999"><text transform="translate(644.25 296.1) scale(0.9484 1)" font-family="&quot;Liberation Serif&quot;, serif" font-size="30.06" fill="#262626" stroke="#262626" stroke-width="0.85" xml:space="preserve">24-Ø17.5</text>
<text transform="translate(1075.45 705.1) scale(0.9761 1)" font-family="&quot;Liberation Serif&quot;, serif" font-size="29.15" fill="#262626" stroke="#262626" stroke-width="0.85" xml:space="preserve">24-Ø17.5</text>
<text transform="translate(1223.2 319.9) scale(0.9130 1)" font-family="&quot;Liberation Serif&quot;, serif" font-size="29.45" fill="#262626" stroke="#262626" stroke-width="0.85" xml:space="preserve">Ø 617</text>
<text transform="translate(1221.14 809.6) scale(0.9623 1)" font-family="&quot;Liberation Serif&quot;, serif" font-size="29.32" fill="#262626" stroke="#262626" stroke-width="0.85" xml:space="preserve">Ø 811</text>
<text transform="translate(2184.09 250.5) scale(0.9000 1)" font-family="&quot;Liberation Serif&quot;, serif" font-size="41.05" fill="#262626" stroke="#262626" stroke-width="0.85" xml:space="preserve">02</text>
<text transform="translate(2331.01 250.5) scale(0.9164 1)" font-family="&quot;Liberation Serif&quot;, serif" font-size="41.05" fill="#262626" stroke="#262626" stroke-width="0.85" xml:space="preserve">58</text>
<text transform="translate(2470.8 250.5) scale(0.8933 1)" font-family="&quot;Liberation Serif&quot;, serif" font-size="41.05" fill="#262626" stroke="#262626" stroke-width="0.85" xml:space="preserve">04</text>
<text transform="translate(2605.2 250.5) scale(0.8293 1)" font-family="&quot;Liberation Serif&quot;, serif" font-size="41.05" fill="#262626" stroke="#262626" stroke-width="0.85" xml:space="preserve">01</text>
<text transform="translate(2000.28 761.8) scale(0.9035 1)" font-family="&quot;Liberation Serif&quot;, serif" font-size="41.2" fill="#262626" stroke="#262626" stroke-width="0.85" xml:space="preserve">06</text>
<text transform="translate(2143.4 761.8) scale(0.9059 1)" font-family="&quot;Liberation Serif&quot;, serif" font-size="41.2" fill="#262626" stroke="#262626" stroke-width="0.85" xml:space="preserve">68</text>
<text transform="translate(2291.9 761.8) scale(0.8554 1)" font-family="&quot;Liberation Serif&quot;, serif" font-size="41.2" fill="#262626" stroke="#262626" stroke-width="0.85" xml:space="preserve">19</text>
<text transform="translate(2440.43 761.8) scale(0.9105 1)" font-family="&quot;Liberation Serif&quot;, serif" font-size="41.2" fill="#262626" stroke="#262626" stroke-width="0.85" xml:space="preserve">79</text>
<text transform="translate(1569.78 117.8) scale(0.7463 1)" font-family="&quot;Liberation Serif&quot;, serif" font-size="29.84" fill="#262626" stroke="#262626" stroke-width="0.85" xml:space="preserve">A-A</text>
<text transform="translate(1963.03 274) scale(0.5834 1)" font-family="&quot;Liberation Serif&quot;, serif" font-size="30.14" fill="#262626" stroke="#262626" stroke-width="0.85" xml:space="preserve">A</text>
<text transform="translate(1735.74 500.6) scale(0.7036 1)" font-family="&quot;Liberation Serif&quot;, serif" font-size="27.49" fill="#262626" stroke="#262626" stroke-width="0.85" xml:space="preserve">B</text>
<text transform="translate(916.27 316.6) scale(0.8431 1)" font-family="&quot;Liberation Serif&quot;, serif" font-size="25.96" fill="#262626" stroke="#262626" stroke-width="0.85" xml:space="preserve">B</text>
<text transform="translate(788.33 708.3) scale(0.5882 1)" font-family="&quot;Liberation Serif&quot;, serif" font-size="28.93" fill="#262626" stroke="#262626" stroke-width="0.85" xml:space="preserve">A</text>
<text transform="translate(2787.65 1404.2) scale(0.8262 1)" font-family="&quot;Liberation Serif&quot;, serif" font-size="43.98" fill="#262626" stroke="#262626" stroke-width="0.85" xml:space="preserve">DH60-7</text>
<text transform="translate(1296.3 534.94) rotate(-90) scale(0.4988 1)" font-family="&quot;Liberation Serif&quot;, serif" font-size="39.1" fill="#262626" stroke="#262626" stroke-width="0.7" xml:space="preserve">65</text>
<text transform="translate(2636.4 487.1) rotate(-90) scale(0.5190 1)" font-family="&quot;Liberation Serif&quot;, serif" font-size="40.3" fill="#262626" stroke="#262626" stroke-width="0.7" xml:space="preserve">65</text>
<text transform="translate(2742.1 512.14) rotate(-90) scale(0.5509 1)" font-family="&quot;Liberation Serif&quot;, serif" font-size="39.55" fill="#262626" stroke="#262626" stroke-width="0.7" xml:space="preserve">75</text>
<text transform="translate(2907.85 1451.8) scale(0.7673 1)" font-family="&quot;Liberation Mono&quot;, monospace" font-size="25.51" fill="#262626" stroke="#262626" stroke-width="0.6" xml:space="preserve">Poids (kg)</text>
<text transform="translate(2203.07 1470.6) scale(0.8292 1)" font-family="&quot;Liberation Mono&quot;, monospace" font-size="23.46" fill="#262626" stroke="#262626" stroke-width="0.6" xml:space="preserve">couronne d’orientation (roulement)</text>
<text transform="translate(2202.58 1503.5) scale(0.8377 1)" font-family="&quot;Liberation Mono&quot;, monospace" font-size="23.46" fill="#262626" stroke="#262626" stroke-width="0.6" xml:space="preserve">pour pelle daewoo</text>
<text transform="translate(2633.34 1592.5) scale(0.7630 1)" font-family="&quot;Liberation Mono&quot;, monospace" font-size="24.44" fill="#262626" stroke="#262626" stroke-width="0.6" xml:space="preserve">Luoyang JCB Bearing Technology Co., Ltd</text>
<text transform="translate(323 1087.8) scale(1.1630 1)" font-family="&quot;Liberation Mono&quot;, monospace" font-size="26.5" fill="#262626" stroke="#262626" stroke-width="0.35" xml:space="preserve">Remarque:</text>
<text transform="translate(323 1121.8) scale(1.1618 1)" font-family="&quot;Liberation Mono&quot;, monospace" font-size="26.5" fill="#262626" stroke="#262626" stroke-width="0.35" xml:space="preserve">1.Luoyang JCB Bearing Technology Co., Ltd est une conception et fabrication Inc, nous avons fabriqué la couronne</text>
<text transform="translate(323 1158.5) scale(1.1618 1)" font-family="&quot;Liberation Mono&quot;, monospace" font-size="26.5" fill="#262626" stroke="#262626" stroke-width="0.35" xml:space="preserve">d’orientation (roulement) pour tous</text>
<text transform="translate(323 1194.9) scale(1.1618 1)" font-family="&quot;Liberation Mono&quot;, monospace" font-size="26.5" fill="#262626" stroke="#262626" stroke-width="0.35" xml:space="preserve">types de pelle de marque divers, spécialisés dans l’industrie de la fabrication</text>
<text transform="translate(323 1231.4) scale(1.1618 1)" font-family="&quot;Liberation Mono&quot;, monospace" font-size="26.5" fill="#262626" stroke="#262626" stroke-width="0.35" xml:space="preserve">couronne d’orientation pour roulement de plus de 30 ans.</text>
<text transform="translate(323 1267.9) scale(1.1618 1)" font-family="&quot;Liberation Mono&quot;, monospace" font-size="26.5" fill="#262626" stroke="#262626" stroke-width="0.35" xml:space="preserve">2. Ce dessin est une référence pour l’utilisateur, si vous avez besoin d’un dessin formel, veuillez nous contacter</text>
<text transform="translate(323 1303.3) scale(1.1630 1)" font-family="&quot;Liberation Mono&quot;, monospace" font-size="26.5" fill="#262626" stroke="#262626" stroke-width="0.35" xml:space="preserve">pour obtenir le dessin officiel.</text>
<text transform="translate(323 1337) scale(1.1630 1)" font-family="&quot;Liberation Mono&quot;, monospace" font-size="26.5" fill="#262626" stroke="#262626" stroke-width="0.35" xml:space="preserve">Informations de contact</text>
<text transform="translate(323 1370.8) scale(1.1630 1)" font-family="&quot;Liberation Mono&quot;, monospace" font-size="26.5" fill="#262626" stroke="#262626" stroke-width="0.35" xml:space="preserve">Adresse de la société: No.3 Lianmeng road, Luoyang, Henan, Chine.</text>
<text transform="translate(323 1404.5) scale(1.1630 1)" font-family="&quot;Liberation Mono&quot;, monospace" font-size="26.5" fill="#262626" stroke="#262626" stroke-width="0.35" xml:space="preserve">Code postal: 471003</text>
<text transform="translate(323 1439) scale(1.1630 1)" font-family="&quot;Liberation Mono&quot;, monospace" font-size="26.5" fill="#262626" stroke="#262626" stroke-width="0.35" xml:space="preserve">Téléphone: 0086-379-68611678 Fax: 0086-379-68611679</text>
<text transform="translate(323 1472.6) scale(1.1630 1)" font-family="&quot;Liberation Mono&quot;, monospace" font-size="26.5" fill="#262626" stroke="#262626" stroke-width="0.35" xml:space="preserve">Skype: jcb-bearing@hotmail.com</text>
<text transform="translate(323 1507.1) scale(1.1630 1)" font-family="&quot;Liberation Mono&quot;, monospace" font-size="26.5" fill="#262626" stroke="#262626" stroke-width="0.35" xml:space="preserve">E-mail: sales@jcb-bearing.com</text>
<text transform="translate(323 1541.9) scale(1.1630 1)" font-family="&quot;Liberation Mono&quot;, monospace" font-size="26.5" fill="#262626" stroke="#262626" stroke-width="0.35" xml:space="preserve">Réservé E-mail: sales@slewingbearingforexcavator.com</text>
<text transform="translate(323 1576.4) scale(1.1630 1)" font-family="&quot;Liberation Mono&quot;, monospace" font-size="26.5" fill="#262626" stroke="#262626" stroke-width="0.35" xml:space="preserve">Site Web: www.jcb-bearing.com</text>
<text transform="translate(323 1610.4) scale(1.1630 1)" font-family="&quot;Liberation Mono&quot;, monospace" font-size="26.5" fill="#262626" stroke="#262626" stroke-width="0.35" xml:space="preserve">          fr.slewingbearingforexcavator.com</text>
<rect x="190.5" y="27.1" width="152" height="135.4" fill="#e2202a"/>
<rect x="342.1" y="27.1" width="149" height="135.4" fill="#fbb017"/>
<rect x="490.8" y="27.1" width="150.9" height="135.4" fill="#3ab54a"/>
<text transform="translate(213.32 130.9) scale(1.9375 1)" font-family="&quot;Liberation Sans&quot;, sans-serif" font-weight="700" font-size="108.43" fill="#e9e62a" stroke="#d3d022" stroke-width="3.6" paint-order="stroke" stroke-linejoin="round" style="filter:drop-shadow(2px 2px 1.2px rgba(90,70,10,0.55))">J</text>
<text transform="translate(352.66 131.9) scale(1.6931 1)" font-family="&quot;Liberation Sans&quot;, sans-serif" font-weight="700" font-size="105.69" fill="#e9e62a" stroke="#d3d022" stroke-width="3.6" paint-order="stroke" stroke-linejoin="round" style="filter:drop-shadow(2px 2px 1.2px rgba(90,70,10,0.55))">C</text>
<text transform="translate(504.69 131.9) scale(1.7088 1)" font-family="&quot;Liberation Sans&quot;, sans-serif" font-weight="700" font-size="103.34" fill="#e9e62a" stroke="#d3d022" stroke-width="3.6" paint-order="stroke" stroke-linejoin="round" style="filter:drop-shadow(2px 2px 1.2px rgba(90,70,10,0.55))">B</text>
<rect x="236" y="45" width="46.1" height="30" fill="#e2202a"/>
<path d="M2550.1 960.3h49.89v5.9h-49.89zM2606.43 960.3h35.81v5.9h-35.81zM2648.68 960.3h14.68v5.9h-14.68zM2683.89 960.3h7.64v5.9h-7.64zM2697.97 960.3h7.64v5.9h-7.64zM2712.05 960.3h28.77v5.9h-28.77zM2747.26 960.3h7.64v5.9h-7.64zM2768.39 960.3h7.64v5.9h-7.64zM2782.47 960.3h21.72v5.9h-21.72zM2810.64 960.3h14.68v5.9h-14.68zM2831.76 960.3h14.68v5.9h-14.68zM2859.93 960.3h7.64v5.9h-7.64zM2874.01 960.3h49.89v5.9h-49.89zM2550.1 965.6h7.64v5.9h-7.64zM2592.35 965.6h7.64v5.9h-7.64zM2606.43 965.6h7.64v5.9h-7.64zM2634.6 965.6h7.64v5.9h-7.64zM2655.72 965.6h7.64v5.9h-7.64zM2669.81 965.6h7.64v5.9h-7.64zM2705.01 965.6h14.68v5.9h-14.68zM2726.14 965.6h35.81v5.9h-35.81zM2768.39 965.6h21.72v5.9h-21.72zM2796.55 965.6h14.68v5.9h-14.68zM2838.8 965.6h21.72v5.9h-21.72zM2874.01 965.6h7.64v5.9h-7.64zM2916.26 965.6h7.64v5.9h-7.64zM2550.1 970.89h7.64v5.9h-7.64zM2564.18 970.89h21.72v5.9h-21.72zM2592.35 970.89h7.64v5.9h-7.64zM2613.47 970.89h7.64v5.9h-7.64zM2648.68 970.89h21.72v5.9h-21.72zM2676.85 970.89h78.06v5.9h-78.06zM2768.39 970.89h35.81v5.9h-35.81zM2817.68 970.89h42.85v5.9h-42.85zM2874.01 970.89h7.64v5.9h-7.64zM2888.09 970.89h21.72v5.9h-21.72zM2916.26 970.89h7.64v5.9h-7.64zM2550.1 976.19h7.64v5.9h-7.64zM2564.18 976.19h21.72v5.9h-21.72zM2592.35 976.19h7.64v5.9h-7.64zM2613.47 976.19h14.68v5.9h-14.68zM2669.81 976.19h7.64v5.9h-7.64zM2683.89 976.19h35.81v5.9h-35.81zM2733.18 976.19h7.64v5.9h-7.64zM2761.35 976.19h35.81v5.9h-35.81zM2817.68 976.19h7.64v5.9h-7.64zM2838.8 976.19h7.64v5.9h-7.64zM2874.01 976.19h7.64v5.9h-7.64zM2888.09 976.19h21.72v5.9h-21.72zM2916.26 976.19h7.64v5.9h-7.64zM2550.1 981.48h7.64v5.9h-7.64zM2564.18 981.48h21.72v5.9h-21.72zM2592.35 981.48h7.64v5.9h-7.64zM2606.43 981.48h7.64v5.9h-7.64zM2634.6 981.48h7.64v5.9h-7.64zM2648.68 981.48h14.68v5.9h-14.68zM2690.93 981.48h7.64v5.9h-7.64zM2712.05 981.48h56.93v5.9h-56.93zM2775.43 981.48h14.68v5.9h-14.68zM2803.59 981.48h7.64v5.9h-7.64zM2838.8 981.48h28.77v5.9h-28.77zM2874.01 981.48h7.64v5.9h-7.64zM2888.09 981.48h21.72v5.9h-21.72zM2916.26 981.48h7.64v5.9h-7.64zM2550.1 986.78h7.64v5.9h-7.64zM2592.35 986.78h7.64v5.9h-7.64zM2620.52 986.78h7.64v5.9h-7.64zM2655.72 986.78h7.64v5.9h-7.64zM2669.81 986.78h7.64v5.9h-7.64zM2705.01 986.78h7.64v5.9h-7.64zM2719.1 986.78h7.64v5.9h-7.64zM2747.26 986.78h28.77v5.9h-28.77zM2796.55 986.78h7.64v5.9h-7.64zM2817.68 986.78h7.64v5.9h-7.64zM2838.8 986.78h7.64v5.9h-7.64zM2852.88 986.78h14.68v5.9h-14.68zM2874.01 986.78h7.64v5.9h-7.64zM2916.26 986.78h7.64v5.9h-7.64zM2550.1 992.08h49.89v5.9h-49.89zM2606.43 992.08h7.64v5.9h-7.64zM2620.52 992.08h7.64v5.9h-7.64zM2634.6 992.08h7.64v5.9h-7.64zM2648.68 992.08h7.64v5.9h-7.64zM2662.76 992.08h7.64v5.9h-7.64zM2676.85 992.08h7.64v5.9h-7.64zM2690.93 992.08h7.64v5.9h-7.64zM2705.01 992.08h7.64v5.9h-7.64zM2719.1 992.08h7.64v5.9h-7.64zM2733.18 992.08h7.64v5.9h-7.64zM2747.26 992.08h7.64v5.9h-7.64zM2761.35 992.08h7.64v5.9h-7.64zM2775.43 992.08h7.64v5.9h-7.64zM2789.51 992.08h7.64v5.9h-7.64zM2803.59 992.08h7.64v5.9h-7.64zM2817.68 992.08h7.64v5.9h-7.64zM2831.76 992.08h7.64v5.9h-7.64zM2845.84 992.08h7.64v5.9h-7.64zM2859.93 992.08h7.64v5.9h-7.64zM2874.01 992.08h49.89v5.9h-49.89zM2613.47 997.37h14.68v5.9h-14.68zM2634.6 997.37h7.64v5.9h-7.64zM2648.68 997.37h14.68v5.9h-14.68zM2669.81 997.37h7.64v5.9h-7.64zM2697.97 997.37h7.64v5.9h-7.64zM2719.1 997.37h7.64v5.9h-7.64zM2747.26 997.37h14.68v5.9h-14.68zM2768.39 997.37h21.72v5.9h-21.72zM2810.64 997.37h49.89v5.9h-49.89zM2550.1 1002.67h7.64v5.9h-7.64zM2564.18 1002.67h7.64v5.9h-7.64zM2578.27 1002.67h56.93v5.9h-56.93zM2676.85 1002.67h14.68v5.9h-14.68zM2697.97 1002.67h7.64v5.9h-7.64zM2719.1 1002.67h35.81v5.9h-35.81zM2761.35 1002.67h7.64v5.9h-7.64zM2831.76 1002.67h35.81v5.9h-35.81zM2902.18 1002.67h14.68v5.9h-14.68zM2578.27 1007.97h7.64v5.9h-7.64zM2599.39 1007.97h14.68v5.9h-14.68zM2620.52 1007.97h7.64v5.9h-7.64zM2641.64 1007.97h21.72v5.9h-21.72zM2690.93 1007.97h21.72v5.9h-21.72zM2719.1 1007.97h7.64v5.9h-7.64zM2733.18 1007.97h21.72v5.9h-21.72zM2775.43 1007.97h7.64v5.9h-7.64zM2789.51 1007.97h21.72v5.9h-21.72zM2817.68 1007.97h7.64v5.9h-7.64zM2838.8 1007.97h14.68v5.9h-14.68zM2866.97 1007.97h21.72v5.9h-21.72zM2895.13 1007.97h7.64v5.9h-7.64zM2909.22 1007.97h7.64v5.9h-7.64zM2557.14 1013.26h7.64v5.9h-7.64zM2592.35 1013.26h7.64v5.9h-7.64zM2606.43 1013.26h63.97v5.9h-63.97zM2676.85 1013.26h7.64v5.9h-7.64zM2697.97 1013.26h7.64v5.9h-7.64zM2726.14 1013.26h21.72v5.9h-21.72zM2761.35 1013.26h35.81v5.9h-35.81zM2803.59 1013.26h7.64v5.9h-7.64zM2817.68 1013.26h14.68v5.9h-14.68zM2838.8 1013.26h14.68v5.9h-14.68zM2909.22 1013.26h7.64v5.9h-7.64zM2550.1 1018.56h7.64v5.9h-7.64zM2571.22 1018.56h14.68v5.9h-14.68zM2599.39 1018.56h21.72v5.9h-21.72zM2634.6 1018.56h7.64v5.9h-7.64zM2648.68 1018.56h7.64v5.9h-7.64zM2662.76 1018.56h28.77v5.9h-28.77zM2697.97 1018.56h14.68v5.9h-14.68zM2726.14 1018.56h56.93v5.9h-56.93zM2803.59 1018.56h14.68v5.9h-14.68zM2824.72 1018.56h28.77v5.9h-28.77zM2859.93 1018.56h7.64v5.9h-7.64zM2888.09 1018.56h35.81v5.9h-35.81zM2571.22 1023.85h14.68v5.9h-14.68zM2592.35 1023.85h14.68v5.9h-14.68zM2613.47 1023.85h14.68v5.9h-14.68zM2655.72 1023.85h21.72v5.9h-21.72zM2719.1 1023.85h7.64v5.9h-7.64zM2733.18 1023.85h7.64v5.9h-7.64zM2747.26 1023.85h7.64v5.9h-7.64zM2768.39 1023.85h21.72v5.9h-21.72zM2803.59 1023.85h14.68v5.9h-14.68zM2831.76 1023.85h14.68v5.9h-14.68zM2852.88 1023.85h21.72v5.9h-21.72zM2895.13 1023.85h21.72v5.9h-21.72zM2557.14 1029.15h21.72v5.9h-21.72zM2585.31 1029.15h7.64v5.9h-7.64zM2613.47 1029.15h28.77v5.9h-28.77zM2648.68 1029.15h7.64v5.9h-7.64zM2676.85 1029.15h7.64v5.9h-7.64zM2690.93 1029.15h7.64v5.9h-7.64zM2705.01 1029.15h14.68v5.9h-14.68zM2726.14 1029.15h7.64v5.9h-7.64zM2740.22 1029.15h28.77v5.9h-28.77zM2782.47 1029.15h21.72v5.9h-21.72zM2810.64 1029.15h28.77v5.9h-28.77zM2874.01 1029.15h14.68v5.9h-14.68zM2902.18 1029.15h7.64v5.9h-7.64zM2916.26 1029.15h7.64v5.9h-7.64zM2550.1 1034.45h56.93v5.9h-56.93zM2613.47 1034.45h14.68v5.9h-14.68zM2641.64 1034.45h28.77v5.9h-28.77zM2676.85 1034.45h14.68v5.9h-14.68zM2697.97 1034.45h14.68v5.9h-14.68zM2726.14 1034.45h21.72v5.9h-21.72zM2754.3 1034.45h7.64v5.9h-7.64zM2775.43 1034.45h14.68v5.9h-14.68zM2803.59 1034.45h7.64v5.9h-7.64zM2817.68 1034.45h21.72v5.9h-21.72zM2866.97 1034.45h21.72v5.9h-21.72zM2902.18 1034.45h21.72v5.9h-21.72zM2550.1 1039.74h7.64v5.9h-7.64zM2564.18 1039.74h7.64v5.9h-7.64zM2606.43 1039.74h21.72v5.9h-21.72zM2634.6 1039.74h14.68v5.9h-14.68zM2655.72 1039.74h21.72v5.9h-21.72zM2683.89 1039.74h7.64v5.9h-7.64zM2712.05 1039.74h28.77v5.9h-28.77zM2747.26 1039.74h21.72v5.9h-21.72zM2803.59 1039.74h7.64v5.9h-7.64zM2817.68 1039.74h7.64v5.9h-7.64zM2831.76 1039.74h7.64v5.9h-7.64zM2845.84 1039.74h28.77v5.9h-28.77zM2888.09 1039.74h14.68v5.9h-14.68zM2916.26 1039.74h7.64v5.9h-7.64zM2571.22 1045.04h14.68v5.9h-14.68zM2592.35 1045.04h7.64v5.9h-7.64zM2606.43 1045.04h28.77v5.9h-28.77zM2655.72 1045.04h7.64v5.9h-7.64zM2669.81 1045.04h14.68v5.9h-14.68zM2697.97 1045.04h7.64v5.9h-7.64zM2719.1 1045.04h35.81v5.9h-35.81zM2768.39 1045.04h21.72v5.9h-21.72zM2796.55 1045.04h21.72v5.9h-21.72zM2831.76 1045.04h21.72v5.9h-21.72zM2866.97 1045.04h14.68v5.9h-14.68zM2888.09 1045.04h21.72v5.9h-21.72zM2916.26 1045.04h7.64v5.9h-7.64zM2557.14 1050.34h14.68v5.9h-14.68zM2585.31 1050.34h7.64v5.9h-7.64zM2606.43 1050.34h14.68v5.9h-14.68zM2627.56 1050.34h7.64v5.9h-7.64zM2641.64 1050.34h7.64v5.9h-7.64zM2655.72 1050.34h21.72v5.9h-21.72zM2697.97 1050.34h7.64v5.9h-7.64zM2712.05 1050.34h7.64v5.9h-7.64zM2726.14 1050.34h14.68v5.9h-14.68zM2754.3 1050.34h14.68v5.9h-14.68zM2782.47 1050.34h14.68v5.9h-14.68zM2810.64 1050.34h14.68v5.9h-14.68zM2831.76 1050.34h7.64v5.9h-7.64zM2859.93 1050.34h7.64v5.9h-7.64zM2874.01 1050.34h14.68v5.9h-14.68zM2902.18 1050.34h21.72v5.9h-21.72zM2557.14 1055.63h21.72v5.9h-21.72zM2592.35 1055.63h7.64v5.9h-7.64zM2613.47 1055.63h7.64v5.9h-7.64zM2627.56 1055.63h7.64v5.9h-7.64zM2655.72 1055.63h14.68v5.9h-14.68zM2676.85 1055.63h7.64v5.9h-7.64zM2690.93 1055.63h21.72v5.9h-21.72zM2719.1 1055.63h14.68v5.9h-14.68zM2747.26 1055.63h56.93v5.9h-56.93zM2810.64 1055.63h7.64v5.9h-7.64zM2824.72 1055.63h7.64v5.9h-7.64zM2852.88 1055.63h7.64v5.9h-7.64zM2866.97 1055.63h7.64v5.9h-7.64zM2881.05 1055.63h7.64v5.9h-7.64zM2916.26 1055.63h7.64v5.9h-7.64zM2557.14 1060.93h7.64v5.9h-7.64zM2578.27 1060.93h7.64v5.9h-7.64zM2599.39 1060.93h14.68v5.9h-14.68zM2620.52 1060.93h7.64v5.9h-7.64zM2634.6 1060.93h7.64v5.9h-7.64zM2648.68 1060.93h7.64v5.9h-7.64zM2669.81 1060.93h14.68v5.9h-14.68zM2690.93 1060.93h28.77v5.9h-28.77zM2740.22 1060.93h7.64v5.9h-7.64zM2754.3 1060.93h7.64v5.9h-7.64zM2775.43 1060.93h7.64v5.9h-7.64zM2810.64 1060.93h7.64v5.9h-7.64zM2831.76 1060.93h7.64v5.9h-7.64zM2845.84 1060.93h7.64v5.9h-7.64zM2866.97 1060.93h7.64v5.9h-7.64zM2881.05 1060.93h14.68v5.9h-14.68zM2902.18 1060.93h7.64v5.9h-7.64zM2916.26 1060.93h7.64v5.9h-7.64zM2578.27 1066.22h28.77v5.9h-28.77zM2613.47 1066.22h7.64v5.9h-7.64zM2634.6 1066.22h14.68v5.9h-14.68zM2655.72 1066.22h42.85v5.9h-42.85zM2712.05 1066.22h7.64v5.9h-7.64zM2726.14 1066.22h14.68v5.9h-14.68zM2747.26 1066.22h21.72v5.9h-21.72zM2789.51 1066.22h21.72v5.9h-21.72zM2824.72 1066.22h7.64v5.9h-7.64zM2838.8 1066.22h7.64v5.9h-7.64zM2859.93 1066.22h7.64v5.9h-7.64zM2874.01 1066.22h7.64v5.9h-7.64zM2888.09 1066.22h21.72v5.9h-21.72zM2916.26 1066.22h7.64v5.9h-7.64zM2564.18 1071.52h14.68v5.9h-14.68zM2606.43 1071.52h28.77v5.9h-28.77zM2655.72 1071.52h7.64v5.9h-7.64zM2676.85 1071.52h7.64v5.9h-7.64zM2690.93 1071.52h42.85v5.9h-42.85zM2761.35 1071.52h7.64v5.9h-7.64zM2775.43 1071.52h7.64v5.9h-7.64zM2796.55 1071.52h7.64v5.9h-7.64zM2817.68 1071.52h7.64v5.9h-7.64zM2831.76 1071.52h21.72v5.9h-21.72zM2874.01 1071.52h7.64v5.9h-7.64zM2888.09 1071.52h14.68v5.9h-14.68zM2564.18 1076.82h7.64v5.9h-7.64zM2592.35 1076.82h7.64v5.9h-7.64zM2613.47 1076.82h14.68v5.9h-14.68zM2634.6 1076.82h7.64v5.9h-7.64zM2648.68 1076.82h21.72v5.9h-21.72zM2676.85 1076.82h28.77v5.9h-28.77zM2733.18 1076.82h7.64v5.9h-7.64zM2747.26 1076.82h7.64v5.9h-7.64zM2775.43 1076.82h7.64v5.9h-7.64zM2803.59 1076.82h28.77v5.9h-28.77zM2866.97 1076.82h21.72v5.9h-21.72zM2895.13 1076.82h28.77v5.9h-28.77zM2550.1 1082.11h14.68v5.9h-14.68zM2571.22 1082.11h14.68v5.9h-14.68zM2613.47 1082.11h21.72v5.9h-21.72zM2641.64 1082.11h7.64v5.9h-7.64zM2662.76 1082.11h7.64v5.9h-7.64zM2676.85 1082.11h7.64v5.9h-7.64zM2690.93 1082.11h21.72v5.9h-21.72zM2726.14 1082.11h21.72v5.9h-21.72zM2754.3 1082.11h21.72v5.9h-21.72zM2782.47 1082.11h7.64v5.9h-7.64zM2796.55 1082.11h14.68v5.9h-14.68zM2817.68 1082.11h14.68v5.9h-14.68zM2838.8 1082.11h7.64v5.9h-7.64zM2874.01 1082.11h21.72v5.9h-21.72zM2902.18 1082.11h7.64v5.9h-7.64zM2916.26 1082.11h7.64v5.9h-7.64zM2550.1 1087.41h14.68v5.9h-14.68zM2578.27 1087.41h35.81v5.9h-35.81zM2634.6 1087.41h21.72v5.9h-21.72zM2676.85 1087.41h14.68v5.9h-14.68zM2705.01 1087.41h49.89v5.9h-49.89zM2761.35 1087.41h28.77v5.9h-28.77zM2796.55 1087.41h21.72v5.9h-21.72zM2831.76 1087.41h7.64v5.9h-7.64zM2845.84 1087.41h49.89v5.9h-49.89zM2902.18 1087.41h21.72v5.9h-21.72zM2550.1 1092.71h14.68v5.9h-14.68zM2578.27 1092.71h7.64v5.9h-7.64zM2606.43 1092.71h14.68v5.9h-14.68zM2634.6 1092.71h7.64v5.9h-7.64zM2655.72 1092.71h14.68v5.9h-14.68zM2719.1 1092.71h7.64v5.9h-7.64zM2747.26 1092.71h7.64v5.9h-7.64zM2775.43 1092.71h21.72v5.9h-21.72zM2803.59 1092.71h7.64v5.9h-7.64zM2824.72 1092.71h7.64v5.9h-7.64zM2845.84 1092.71h21.72v5.9h-21.72zM2888.09 1092.71h7.64v5.9h-7.64zM2909.22 1092.71h7.64v5.9h-7.64zM2578.27 1098h7.64v5.9h-7.64zM2592.35 1098h7.64v5.9h-7.64zM2606.43 1098h7.64v5.9h-7.64zM2620.52 1098h7.64v5.9h-7.64zM2634.6 1098h7.64v5.9h-7.64zM2648.68 1098h49.89v5.9h-49.89zM2705.01 1098h21.72v5.9h-21.72zM2733.18 1098h7.64v5.9h-7.64zM2747.26 1098h7.64v5.9h-7.64zM2761.35 1098h21.72v5.9h-21.72zM2803.59 1098h7.64v5.9h-7.64zM2817.68 1098h7.64v5.9h-7.64zM2831.76 1098h7.64v5.9h-7.64zM2859.93 1098h7.64v5.9h-7.64zM2874.01 1098h7.64v5.9h-7.64zM2888.09 1098h14.68v5.9h-14.68zM2909.22 1098h14.68v5.9h-14.68zM2550.1 1103.3h35.81v5.9h-35.81zM2606.43 1103.3h14.68v5.9h-14.68zM2634.6 1103.3h7.64v5.9h-7.64zM2655.72 1103.3h7.64v5.9h-7.64zM2683.89 1103.3h7.64v5.9h-7.64zM2705.01 1103.3h21.72v5.9h-21.72zM2747.26 1103.3h14.68v5.9h-14.68zM2768.39 1103.3h14.68v5.9h-14.68zM2796.55 1103.3h7.64v5.9h-7.64zM2852.88 1103.3h14.68v5.9h-14.68zM2888.09 1103.3h7.64v5.9h-7.64zM2902.18 1103.3h21.72v5.9h-21.72zM2550.1 1108.59h63.97v5.9h-63.97zM2620.52 1108.59h7.64v5.9h-7.64zM2648.68 1108.59h14.68v5.9h-14.68zM2669.81 1108.59h7.64v5.9h-7.64zM2690.93 1108.59h7.64v5.9h-7.64zM2719.1 1108.59h42.85v5.9h-42.85zM2775.43 1108.59h7.64v5.9h-7.64zM2789.51 1108.59h14.68v5.9h-14.68zM2817.68 1108.59h21.72v5.9h-21.72zM2852.88 1108.59h42.85v5.9h-42.85zM2916.26 1108.59h7.64v5.9h-7.64zM2550.1 1113.89h14.68v5.9h-14.68zM2585.31 1113.89h7.64v5.9h-7.64zM2613.47 1113.89h28.77v5.9h-28.77zM2719.1 1113.89h7.64v5.9h-7.64zM2733.18 1113.89h7.64v5.9h-7.64zM2747.26 1113.89h21.72v5.9h-21.72zM2789.51 1113.89h7.64v5.9h-7.64zM2817.68 1113.89h35.81v5.9h-35.81zM2866.97 1113.89h7.64v5.9h-7.64zM2881.05 1113.89h14.68v5.9h-14.68zM2916.26 1113.89h7.64v5.9h-7.64zM2550.1 1119.19h14.68v5.9h-14.68zM2585.31 1119.19h21.72v5.9h-21.72zM2613.47 1119.19h28.77v5.9h-28.77zM2648.68 1119.19h7.64v5.9h-7.64zM2662.76 1119.19h7.64v5.9h-7.64zM2676.85 1119.19h14.68v5.9h-14.68zM2697.97 1119.19h7.64v5.9h-7.64zM2712.05 1119.19h14.68v5.9h-14.68zM2754.3 1119.19h7.64v5.9h-7.64zM2775.43 1119.19h7.64v5.9h-7.64zM2789.51 1119.19h7.64v5.9h-7.64zM2810.64 1119.19h14.68v5.9h-14.68zM2838.8 1119.19h14.68v5.9h-14.68zM2859.93 1119.19h7.64v5.9h-7.64zM2874.01 1119.19h21.72v5.9h-21.72zM2902.18 1119.19h7.64v5.9h-7.64zM2916.26 1119.19h7.64v5.9h-7.64zM2557.14 1124.48h7.64v5.9h-7.64zM2578.27 1124.48h14.68v5.9h-14.68zM2620.52 1124.48h14.68v5.9h-14.68zM2655.72 1124.48h7.64v5.9h-7.64zM2690.93 1124.48h14.68v5.9h-14.68zM2712.05 1124.48h7.64v5.9h-7.64zM2747.26 1124.48h28.77v5.9h-28.77zM2796.55 1124.48h7.64v5.9h-7.64zM2831.76 1124.48h7.64v5.9h-7.64zM2866.97 1124.48h14.68v5.9h-14.68zM2895.13 1124.48h7.64v5.9h-7.64zM2916.26 1124.48h7.64v5.9h-7.64zM2564.18 1129.78h21.72v5.9h-21.72zM2592.35 1129.78h21.72v5.9h-21.72zM2627.56 1129.78h7.64v5.9h-7.64zM2662.76 1129.78h7.64v5.9h-7.64zM2676.85 1129.78h21.72v5.9h-21.72zM2705.01 1129.78h7.64v5.9h-7.64zM2719.1 1129.78h7.64v5.9h-7.64zM2733.18 1129.78h14.68v5.9h-14.68zM2754.3 1129.78h14.68v5.9h-14.68zM2782.47 1129.78h7.64v5.9h-7.64zM2796.55 1129.78h7.64v5.9h-7.64zM2810.64 1129.78h14.68v5.9h-14.68zM2838.8 1129.78h7.64v5.9h-7.64zM2852.88 1129.78h7.64v5.9h-7.64zM2866.97 1129.78h7.64v5.9h-7.64zM2902.18 1129.78h21.72v5.9h-21.72zM2550.1 1135.08h21.72v5.9h-21.72zM2585.31 1135.08h7.64v5.9h-7.64zM2606.43 1135.08h7.64v5.9h-7.64zM2620.52 1135.08h14.68v5.9h-14.68zM2641.64 1135.08h7.64v5.9h-7.64zM2676.85 1135.08h21.72v5.9h-21.72zM2712.05 1135.08h28.77v5.9h-28.77zM2761.35 1135.08h7.64v5.9h-7.64zM2796.55 1135.08h14.68v5.9h-14.68zM2831.76 1135.08h7.64v5.9h-7.64zM2852.88 1135.08h56.93v5.9h-56.93zM2916.26 1135.08h7.64v5.9h-7.64zM2557.14 1140.37h14.68v5.9h-14.68zM2578.27 1140.37h7.64v5.9h-7.64zM2592.35 1140.37h7.64v5.9h-7.64zM2606.43 1140.37h21.72v5.9h-21.72zM2648.68 1140.37h14.68v5.9h-14.68zM2669.81 1140.37h7.64v5.9h-7.64zM2683.89 1140.37h21.72v5.9h-21.72zM2719.1 1140.37h7.64v5.9h-7.64zM2733.18 1140.37h28.77v5.9h-28.77zM2768.39 1140.37h28.77v5.9h-28.77zM2803.59 1140.37h7.64v5.9h-7.64zM2817.68 1140.37h7.64v5.9h-7.64zM2838.8 1140.37h42.85v5.9h-42.85zM2902.18 1140.37h14.68v5.9h-14.68zM2550.1 1145.67h7.64v5.9h-7.64zM2564.18 1145.67h7.64v5.9h-7.64zM2578.27 1145.67h7.64v5.9h-7.64zM2599.39 1145.67h14.68v5.9h-14.68zM2627.56 1145.67h14.68v5.9h-14.68zM2648.68 1145.67h7.64v5.9h-7.64zM2662.76 1145.67h14.68v5.9h-14.68zM2690.93 1145.67h21.72v5.9h-21.72zM2719.1 1145.67h21.72v5.9h-21.72zM2768.39 1145.67h14.68v5.9h-14.68zM2789.51 1145.67h7.64v5.9h-7.64zM2803.59 1145.67h7.64v5.9h-7.64zM2817.68 1145.67h7.64v5.9h-7.64zM2838.8 1145.67h14.68v5.9h-14.68zM2859.93 1145.67h7.64v5.9h-7.64zM2874.01 1145.67h14.68v5.9h-14.68zM2895.13 1145.67h21.72v5.9h-21.72zM2550.1 1150.96h7.64v5.9h-7.64zM2564.18 1150.96h7.64v5.9h-7.64zM2578.27 1150.96h7.64v5.9h-7.64zM2592.35 1150.96h7.64v5.9h-7.64zM2606.43 1150.96h7.64v5.9h-7.64zM2620.52 1150.96h7.64v5.9h-7.64zM2634.6 1150.96h7.64v5.9h-7.64zM2655.72 1150.96h7.64v5.9h-7.64zM2683.89 1150.96h7.64v5.9h-7.64zM2697.97 1150.96h28.77v5.9h-28.77zM2733.18 1150.96h14.68v5.9h-14.68zM2754.3 1150.96h14.68v5.9h-14.68zM2796.55 1150.96h7.64v5.9h-7.64zM2817.68 1150.96h21.72v5.9h-21.72zM2845.84 1150.96h28.77v5.9h-28.77zM2888.09 1150.96h7.64v5.9h-7.64zM2909.22 1150.96h7.64v5.9h-7.64zM2557.14 1156.26h14.68v5.9h-14.68zM2585.31 1156.26h7.64v5.9h-7.64zM2606.43 1156.26h28.77v5.9h-28.77zM2669.81 1156.26h7.64v5.9h-7.64zM2697.97 1156.26h14.68v5.9h-14.68zM2719.1 1156.26h7.64v5.9h-7.64zM2733.18 1156.26h14.68v5.9h-14.68zM2754.3 1156.26h14.68v5.9h-14.68zM2817.68 1156.26h7.64v5.9h-7.64zM2831.76 1156.26h7.64v5.9h-7.64zM2845.84 1156.26h7.64v5.9h-7.64zM2874.01 1156.26h7.64v5.9h-7.64zM2888.09 1156.26h7.64v5.9h-7.64zM2902.18 1156.26h14.68v5.9h-14.68zM2550.1 1161.56h7.64v5.9h-7.64zM2578.27 1161.56h78.06v5.9h-78.06zM2690.93 1161.56h7.64v5.9h-7.64zM2705.01 1161.56h7.64v5.9h-7.64zM2726.14 1161.56h28.77v5.9h-28.77zM2761.35 1161.56h7.64v5.9h-7.64zM2775.43 1161.56h14.68v5.9h-14.68zM2796.55 1161.56h7.64v5.9h-7.64zM2810.64 1161.56h14.68v5.9h-14.68zM2831.76 1161.56h7.64v5.9h-7.64zM2845.84 1161.56h14.68v5.9h-14.68zM2866.97 1161.56h28.77v5.9h-28.77zM2902.18 1161.56h14.68v5.9h-14.68zM2557.14 1166.85h21.72v5.9h-21.72zM2634.6 1166.85h7.64v5.9h-7.64zM2662.76 1166.85h7.64v5.9h-7.64zM2676.85 1166.85h7.64v5.9h-7.64zM2697.97 1166.85h7.64v5.9h-7.64zM2719.1 1166.85h7.64v5.9h-7.64zM2747.26 1166.85h21.72v5.9h-21.72zM2775.43 1166.85h14.68v5.9h-14.68zM2796.55 1166.85h14.68v5.9h-14.68zM2824.72 1166.85h35.81v5.9h-35.81zM2874.01 1166.85h7.64v5.9h-7.64zM2888.09 1166.85h7.64v5.9h-7.64zM2916.26 1166.85h7.64v5.9h-7.64zM2550.1 1172.15h7.64v5.9h-7.64zM2564.18 1172.15h14.68v5.9h-14.68zM2585.31 1172.15h14.68v5.9h-14.68zM2641.64 1172.15h14.68v5.9h-14.68zM2662.76 1172.15h7.64v5.9h-7.64zM2690.93 1172.15h21.72v5.9h-21.72zM2740.22 1172.15h14.68v5.9h-14.68zM2768.39 1172.15h7.64v5.9h-7.64zM2789.51 1172.15h14.68v5.9h-14.68zM2824.72 1172.15h7.64v5.9h-7.64zM2866.97 1172.15h21.72v5.9h-21.72zM2902.18 1172.15h14.68v5.9h-14.68zM2557.14 1177.45h7.64v5.9h-7.64zM2578.27 1177.45h14.68v5.9h-14.68zM2599.39 1177.45h7.64v5.9h-7.64zM2613.47 1177.45h14.68v5.9h-14.68zM2648.68 1177.45h14.68v5.9h-14.68zM2669.81 1177.45h7.64v5.9h-7.64zM2705.01 1177.45h21.72v5.9h-21.72zM2733.18 1177.45h21.72v5.9h-21.72zM2782.47 1177.45h14.68v5.9h-14.68zM2803.59 1177.45h7.64v5.9h-7.64zM2817.68 1177.45h28.77v5.9h-28.77zM2859.93 1177.45h28.77v5.9h-28.77zM2909.22 1177.45h7.64v5.9h-7.64zM2550.1 1182.74h14.68v5.9h-14.68zM2578.27 1182.74h7.64v5.9h-7.64zM2592.35 1182.74h14.68v5.9h-14.68zM2620.52 1182.74h7.64v5.9h-7.64zM2634.6 1182.74h14.68v5.9h-14.68zM2655.72 1182.74h14.68v5.9h-14.68zM2676.85 1182.74h7.64v5.9h-7.64zM2690.93 1182.74h28.77v5.9h-28.77zM2726.14 1182.74h7.64v5.9h-7.64zM2740.22 1182.74h7.64v5.9h-7.64zM2754.3 1182.74h28.77v5.9h-28.77zM2789.51 1182.74h42.85v5.9h-42.85zM2838.8 1182.74h14.68v5.9h-14.68zM2859.93 1182.74h14.68v5.9h-14.68zM2881.05 1182.74h14.68v5.9h-14.68zM2909.22 1182.74h14.68v5.9h-14.68zM2557.14 1188.04h7.64v5.9h-7.64zM2571.22 1188.04h7.64v5.9h-7.64zM2599.39 1188.04h14.68v5.9h-14.68zM2620.52 1188.04h7.64v5.9h-7.64zM2641.64 1188.04h14.68v5.9h-14.68zM2662.76 1188.04h7.64v5.9h-7.64zM2676.85 1188.04h7.64v5.9h-7.64zM2697.97 1188.04h7.64v5.9h-7.64zM2712.05 1188.04h7.64v5.9h-7.64zM2733.18 1188.04h28.77v5.9h-28.77zM2768.39 1188.04h7.64v5.9h-7.64zM2782.47 1188.04h7.64v5.9h-7.64zM2796.55 1188.04h7.64v5.9h-7.64zM2810.64 1188.04h35.81v5.9h-35.81zM2852.88 1188.04h14.68v5.9h-14.68zM2895.13 1188.04h21.72v5.9h-21.72zM2557.14 1193.33h14.68v5.9h-14.68zM2585.31 1193.33h21.72v5.9h-21.72zM2613.47 1193.33h14.68v5.9h-14.68zM2648.68 1193.33h56.93v5.9h-56.93zM2712.05 1193.33h42.85v5.9h-42.85zM2761.35 1193.33h14.68v5.9h-14.68zM2789.51 1193.33h14.68v5.9h-14.68zM2817.68 1193.33h21.72v5.9h-21.72zM2845.84 1193.33h7.64v5.9h-7.64zM2859.93 1193.33h35.81v5.9h-35.81zM2902.18 1193.33h14.68v5.9h-14.68zM2613.47 1198.63h7.64v5.9h-7.64zM2634.6 1198.63h7.64v5.9h-7.64zM2648.68 1198.63h7.64v5.9h-7.64zM2669.81 1198.63h7.64v5.9h-7.64zM2705.01 1198.63h21.72v5.9h-21.72zM2747.26 1198.63h7.64v5.9h-7.64zM2768.39 1198.63h14.68v5.9h-14.68zM2789.51 1198.63h7.64v5.9h-7.64zM2803.59 1198.63h14.68v5.9h-14.68zM2824.72 1198.63h7.64v5.9h-7.64zM2838.8 1198.63h7.64v5.9h-7.64zM2859.93 1198.63h7.64v5.9h-7.64zM2888.09 1198.63h7.64v5.9h-7.64zM2909.22 1198.63h14.68v5.9h-14.68zM2550.1 1203.93h49.89v5.9h-49.89zM2606.43 1203.93h42.85v5.9h-42.85zM2662.76 1203.93h7.64v5.9h-7.64zM2690.93 1203.93h35.81v5.9h-35.81zM2733.18 1203.93h7.64v5.9h-7.64zM2747.26 1203.93h7.64v5.9h-7.64zM2768.39 1203.93h28.77v5.9h-28.77zM2810.64 1203.93h14.68v5.9h-14.68zM2845.84 1203.93h7.64v5.9h-7.64zM2859.93 1203.93h7.64v5.9h-7.64zM2874.01 1203.93h7.64v5.9h-7.64zM2888.09 1203.93h21.72v5.9h-21.72zM2916.26 1203.93h7.64v5.9h-7.64zM2550.1 1209.22h7.64v5.9h-7.64zM2592.35 1209.22h7.64v5.9h-7.64zM2613.47 1209.22h28.77v5.9h-28.77zM2648.68 1209.22h7.64v5.9h-7.64zM2662.76 1209.22h14.68v5.9h-14.68zM2683.89 1209.22h28.77v5.9h-28.77zM2719.1 1209.22h7.64v5.9h-7.64zM2747.26 1209.22h14.68v5.9h-14.68zM2775.43 1209.22h21.72v5.9h-21.72zM2817.68 1209.22h21.72v5.9h-21.72zM2845.84 1209.22h21.72v5.9h-21.72zM2888.09 1209.22h7.64v5.9h-7.64zM2550.1 1214.52h7.64v5.9h-7.64zM2564.18 1214.52h21.72v5.9h-21.72zM2592.35 1214.52h7.64v5.9h-7.64zM2613.47 1214.52h14.68v5.9h-14.68zM2634.6 1214.52h14.68v5.9h-14.68zM2655.72 1214.52h14.68v5.9h-14.68zM2676.85 1214.52h7.64v5.9h-7.64zM2690.93 1214.52h7.64v5.9h-7.64zM2712.05 1214.52h42.85v5.9h-42.85zM2761.35 1214.52h14.68v5.9h-14.68zM2782.47 1214.52h14.68v5.9h-14.68zM2803.59 1214.52h7.64v5.9h-7.64zM2817.68 1214.52h7.64v5.9h-7.64zM2838.8 1214.52h63.97v5.9h-63.97zM2916.26 1214.52h7.64v5.9h-7.64zM2550.1 1219.82h7.64v5.9h-7.64zM2564.18 1219.82h21.72v5.9h-21.72zM2592.35 1219.82h7.64v5.9h-7.64zM2606.43 1219.82h28.77v5.9h-28.77zM2641.64 1219.82h14.68v5.9h-14.68zM2662.76 1219.82h7.64v5.9h-7.64zM2712.05 1219.82h7.64v5.9h-7.64zM2726.14 1219.82h7.64v5.9h-7.64zM2754.3 1219.82h14.68v5.9h-14.68zM2789.51 1219.82h7.64v5.9h-7.64zM2803.59 1219.82h7.64v5.9h-7.64zM2824.72 1219.82h7.64v5.9h-7.64zM2845.84 1219.82h21.72v5.9h-21.72zM2881.05 1219.82h21.72v5.9h-21.72zM2909.22 1219.82h7.64v5.9h-7.64zM2550.1 1225.11h7.64v5.9h-7.64zM2564.18 1225.11h21.72v5.9h-21.72zM2592.35 1225.11h7.64v5.9h-7.64zM2613.47 1225.11h21.72v5.9h-21.72zM2655.72 1225.11h14.68v5.9h-14.68zM2683.89 1225.11h21.72v5.9h-21.72zM2712.05 1225.11h7.64v5.9h-7.64zM2733.18 1225.11h21.72v5.9h-21.72zM2768.39 1225.11h28.77v5.9h-28.77zM2803.59 1225.11h21.72v5.9h-21.72zM2831.76 1225.11h21.72v5.9h-21.72zM2859.93 1225.11h14.68v5.9h-14.68zM2881.05 1225.11h14.68v5.9h-14.68zM2902.18 1225.11h7.64v5.9h-7.64zM2550.1 1230.41h7.64v5.9h-7.64zM2592.35 1230.41h7.64v5.9h-7.64zM2613.47 1230.41h14.68v5.9h-14.68zM2655.72 1230.41h7.64v5.9h-7.64zM2690.93 1230.41h7.64v5.9h-7.64zM2705.01 1230.41h28.77v5.9h-28.77zM2740.22 1230.41h49.89v5.9h-49.89zM2796.55 1230.41h14.68v5.9h-14.68zM2817.68 1230.41h35.81v5.9h-35.81zM2874.01 1230.41h7.64v5.9h-7.64zM2895.13 1230.41h14.68v5.9h-14.68zM2550.1 1235.7h49.89v5.9h-49.89zM2606.43 1235.7h28.77v5.9h-28.77zM2641.64 1235.7h21.72v5.9h-21.72zM2683.89 1235.7h7.64v5.9h-7.64zM2712.05 1235.7h7.64v5.9h-7.64zM2733.18 1235.7h21.72v5.9h-21.72zM2782.47 1235.7h14.68v5.9h-14.68zM2810.64 1235.7h7.64v5.9h-7.64zM2824.72 1235.7h28.77v5.9h-28.77zM2859.93 1235.7h14.68v5.9h-14.68zM2881.05 1235.7h21.72v5.9h-21.72z" fill="#111"/></g>
</svg></body></html>
